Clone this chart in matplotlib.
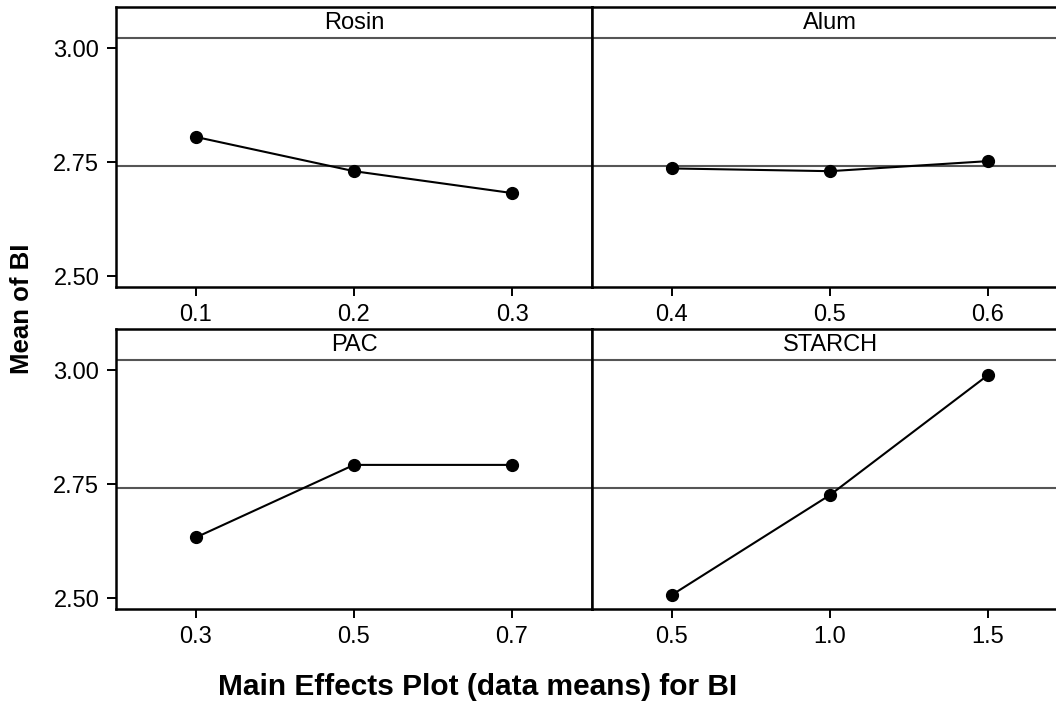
import matplotlib
matplotlib.use("Agg")
import matplotlib.pyplot as plt
import numpy as np

plt.rcParams['font.family'] = ['Liberation Sans', 'DejaVu Sans']

# data: factor levels and mean BI at each level
factors = ["Rosin", "Alum", "PAC", "STARCH"]
levels = [["0.1", "0.2", "0.3"],
          ["0.4", "0.5", "0.6"],
          ["0.3", "0.5", "0.7"],
          ["0.5", "1.0", "1.5"]]
rosin_means = [2.805, 2.730, 2.682]
alum_means = [2.736, 2.730, 2.752]
pac_means = [2.633, 2.792, 2.792]
starch_means = [2.507, 2.726, 2.989]
grand_mean = 2.741
yticks = [2.50, 2.75, 3.00]

all_means = [rosin_means, alum_means, pac_means, starch_means]

W, H = 1056, 702
fig = plt.figure(figsize=(W / 100, H / 100), dpi=100)

def px_axes(x0, y0, x1, y1):
    # pixel box (top-left origin) -> figure fraction axes
    return fig.add_axes([x0 / W, 1 - y1 / H, (x1 - x0) / W, (y1 - y0) / H])

boxes = [(116, 7, 592, 287), (592, 7, 1068, 287),
         (116, 329, 592, 609), (592, 329, 1068, 609)]
strip_y = 3.022
ylim = (2.476, 3.090)

for i, (name, labs, means) in enumerate(zip(factors, levels, all_means)):
    ax = px_axes(*boxes[i])
    x = np.arange(len(labs))
    ax.axhline(grand_mean, color="#555555", lw=1.5, zorder=1)
    ax.axhline(strip_y, color="#555555", lw=1.5, zorder=1)
    ax.plot(x, means, color="black", lw=1.5, marker="o", ms=8.5, zorder=3)
    ax.text(1, (strip_y + ylim[1]) / 2, name, ha="center", va="center", fontsize=17)
    ax.set_xlim(-0.506, 2.506)
    ax.set_ylim(*ylim)
    ax.set_xticks(x)
    ax.set_xticklabels(labs, fontsize=17)
    ax.tick_params(axis="both", direction="out", length=6.5, width=1.4, pad=5.5, colors="black")
    if i % 2 == 0:
        ax.set_yticks(yticks)
        ax.set_yticklabels(["%.2f" % v for v in yticks], fontsize=17)
    else:
        ax.set_yticks([])
    for s in ax.spines.values():
        s.set_linewidth(1.8)

fig.text(22 / W, 1 - 309 / H, "Mean of BI", rotation=90, ha="center", va="center",
         fontsize=18.5, fontweight="bold")
fig.text(478 / W, 1 - 687 / H, "Main Effects Plot (data means) for BI", ha="center",
         va="center", fontsize=21.5, fontweight="bold")

fig.savefig("out.png", dpi=100)
